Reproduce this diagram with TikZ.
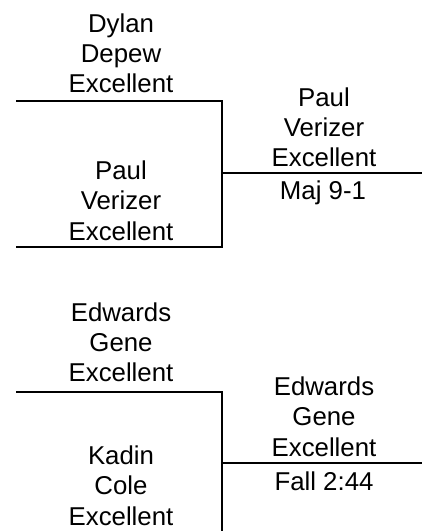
\documentclass[tikz,border=0pt]{standalone}
\usepackage{fontspec}
\setmainfont{Liberation Sans}
\begin{document}
\begin{tikzpicture}[x=1pt,y=-1pt,
  player/.style={align=center,inner sep=0pt,anchor=base,font=\fontsize{25.8}{30.2}\selectfont},
  bline/.style={line width=2pt,line cap=rect}]
\useasboundingbox (0,0) rectangle (422,531);
% text (anchor base = baseline of the last line)
\node[player] (a) at (121,92.7) {Dylan\\Depew\\Excellent};
\node[player] (b) at (121,240) {Paul\\Verizer\\Excellent};
\node[player] (w1) at (324,166.7) {Paul\\Verizer\\Excellent};
\node[player] (r1) at (323,199) {Maj 9-1};
\node[player] (c) at (121,381.7) {Edwards\\Gene\\Excellent};
\node[player] (d) at (121,525) {Kadin\\Cole\\Excellent};
\node[player] (w2) at (324,456) {Edwards\\Gene\\Excellent};
\node[player] (r2) at (324,490.7) {Fall 2:44};
% bracket points
\coordinate (a0) at (17,101);
\coordinate (a1) at (221.5,101);
\coordinate (b0) at (17,247.3);
\coordinate (b1) at (221.5,247.3);
\coordinate (m1) at (221.5,173.3);
\coordinate (e1) at (423,173.3);
\coordinate (c0) at (17,392);
\coordinate (c1) at (221.5,392);
\coordinate (d1) at (221.5,540);
\coordinate (m2) at (221.5,463.3);
\coordinate (e2) at (423,463.3);
\draw[bline] (a0) -- (a1) -- (b1) -- (b0);
\draw[bline] (m1) -- (e1);
\draw[bline] (c0) -- (c1) -- (d1);
\draw[bline] (m2) -- (e2);
\end{tikzpicture}
\end{document}
